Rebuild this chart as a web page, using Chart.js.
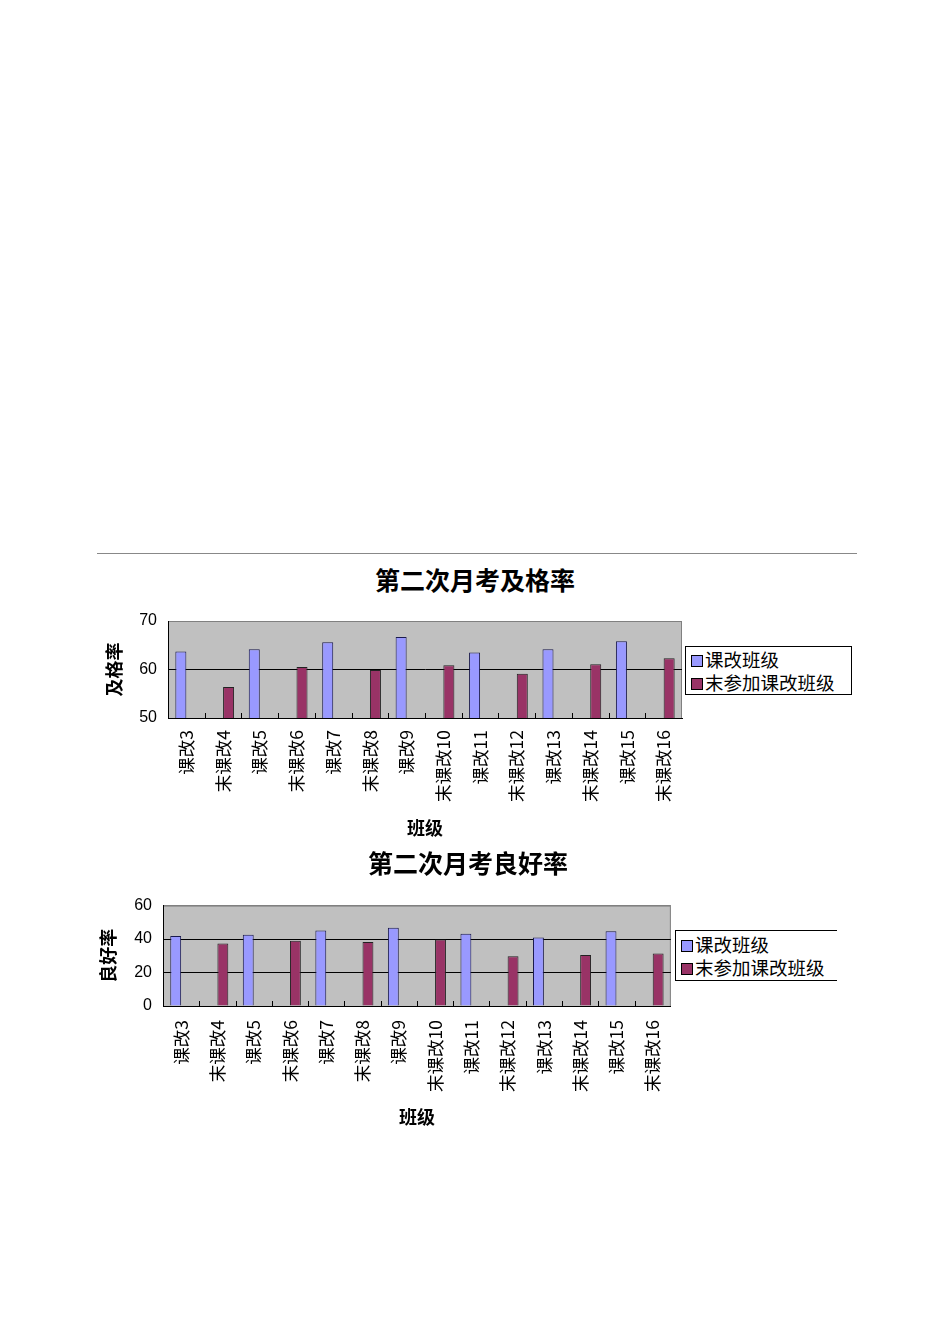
<!DOCTYPE html>
<html>
<head>
<meta charset="utf-8">
<script src="https://cdn.jsdelivr.net/npm/chart.js@4.4.1/dist/chart.umd.min.js"></script>
<style>
  body { margin: 0; background: #fff; font-family: "Noto Sans CJK SC", sans-serif; }
  #page { position: relative; width: 950px; height: 1344px; }
  .rule { position: absolute; left: 97px; top: 553px; width: 760px; height: 1px; background: #888; }
  .title { position: absolute; font-weight: bold; font-size: 25px; transform: translate(-50%, -50%); white-space: nowrap; color: #000; }
  canvas { position: absolute; }
  .legend { position: absolute; border: 1px solid #000; background: #fff; font-size: 18.5px; line-height: 23px; padding-top: 1px; box-sizing: border-box; }
  .legend div { white-space: nowrap; padding-left: 5px; }
  .legend span { display: inline-block; width: 10px; height: 10px; border: 1px solid #000; margin-right: 2px; vertical-align: 0px; }
</style>
</head>
<body>
<div id="page">
  <div class="rule"></div>
  <div class="title" style="left:475px; top:579px;">第二次月考及格率</div>
  <canvas id="passChart" width="600" height="250" style="left:90px; top:600px;"></canvas>
  <div class="legend" style="left:685px; top:646px; width:167px; height:49px;">
    <div><span style="background:#9999FF"></span>课改班级</div>
    <div><span style="background:#993366"></span>末参加课改班级</div>
  </div>

  <div class="title" style="left:468px; top:862px;">第二次月考良好率</div>
  <canvas id="goodChart" width="595" height="250" style="left:85px; top:885px;"></canvas>
  <div class="legend" style="left:675px; top:930px; width:162px; height:51px; border-right:none; padding-top:2px;">
    <div><span style="background:#9999FF"></span>课改班级</div>
    <div><span style="background:#993366"></span>末参加课改班级</div>
  </div>
</div>

<script>
// 班级
const categories = ['课改3', '末课改4', '课改5', '末课改6', '课改7', '末课改8', '课改9',
  '末课改10', '课改11', '末课改12', '课改13', '末课改14', '课改15', '末课改16'];
const seriesNames = ['课改班级', '末参加课改班级'];

// 及格率
const passReform = [63.7, null, 64.2, null, 65.6, null, 66.7, null, 63.5, null, 64.2, null, 65.8, null];
const passOther = [null, 56.4, null, 60.5, null, 59.9, null, 60.9, null, 59.1, null, 61.1, null, 62.3];
const passTicks = [50, 60, 70];

// 良好率
const goodReform = [41.8, null, 42.6, null, 45.1, null, 46.7, null, 43.2, null, 41.0, null, 44.6, null];
const goodOther = [null, 37.4, null, 39.0, null, 38.2, null, 39.7, null, 29.7, null, 30.5, null, 31.3];
const goodTicks = [0, 20, 40, 60];

// 绘图区灰色背景 + 类别分隔小刻度
const plotArea = {
  id: 'plotArea',
  beforeDraw(chart) {
    const a = chart.chartArea, c = chart.ctx;
    c.save();
    c.fillStyle = '#C0C0C0';
    c.fillRect(a.left, a.top, a.right - a.left, a.bottom - a.top);
    c.strokeStyle = '#808080';
    c.lineWidth = 1;
    c.strokeRect(a.left + 0.5, a.top + 0.5, a.right - a.left - 1, a.bottom - a.top);
    c.restore();
  },
  afterDatasetsDraw(chart) {
    const x = chart.scales.x, a = chart.chartArea, c = chart.ctx;
    c.save();
    c.strokeStyle = '#000';
    c.lineWidth = 1;
    c.beginPath();
    for (let i = 1; i < categories.length; i++) {
      const px = Math.round((x.getPixelForValue(i - 1) + x.getPixelForValue(i)) / 2) + 0.5;
      c.moveTo(px, a.bottom);
      c.lineTo(px, a.bottom - 5);
    }
    c.stroke();
    c.restore();
  }
};

function makeChart(id, yTitle, reform, other, ticks, opts) {
  const ctx = document.getElementById(id);
  const yMax = ticks[ticks.length - 1];
  return new Chart(ctx, {
    type: 'bar',
    data: {
      labels: categories,
      datasets: [
        { label: seriesNames[0], data: reform, backgroundColor: '#9999FF', borderColor: '#1a1a4d', borderWidth: 1 },
        { label: seriesNames[1], data: other, backgroundColor: '#993366', borderColor: '#222', borderWidth: 1 }
      ]
    },
    options: {
      responsive: false,
      animation: false,
      devicePixelRatio: 1,
      categoryPercentage: 0.6,
      barPercentage: 1.0,
      layout: { padding: { top: opts.top, right: opts.right, left: 0, bottom: 0 } },
      plugins: { legend: { display: false }, tooltip: { enabled: false } },
      scales: {
        x: {
          grid: { display: false },
          border: { color: '#000', width: 1 },
          ticks: {
            autoSkip: false, minRotation: 90, maxRotation: 90, padding: opts.xPad,
            color: '#000', font: { size: 17.5, family: '"Noto Sans CJK SC", sans-serif' }
          },
          title: {
            display: true, text: '班级', color: '#000',
            padding: { top: opts.xTitlePad, bottom: opts.xTitlePad },
            font: { size: 18, weight: 'bold', family: '"Noto Sans CJK SC", sans-serif' }
          },
          afterFit(s) { s.height = opts.xHeight; }
        },
        y: {
          min: ticks[0], max: yMax,
          grid: {
            drawTicks: false, lineWidth: 1,
            color: c => (c.tick && c.tick.value === yMax) ? '#808080' : '#000'
          },
          border: { color: '#000', width: 1 },
          ticks: {
            stepSize: ticks[1] - ticks[0], padding: 11, color: '#000',
            font: { size: 16, family: '"Liberation Sans", sans-serif' }
          },
          title: {
            display: true, text: yTitle, color: '#000', padding: { top: opts.yTitlePad, bottom: 0 },
            font: { size: 18, weight: 'bold', family: '"Noto Sans CJK SC", sans-serif' }
          },
          afterFit(s) { s.width = 78; }
        }
      }
    },
    plugins: [plotArea]
  });
}

makeChart('passChart', '及格率', passReform, passOther, passTicks,
  { top: 21, right: 8, xHeight: 132, xPad: 4, xTitlePad: 11, yTitlePad: 13 });
makeChart('goodChart', '良好率', goodReform, goodOther, goodTicks,
  { top: 20, right: 8, xHeight: 129, xPad: 6, xTitlePad: 7, yTitlePad: 12 });
</script>
</body>
</html>
